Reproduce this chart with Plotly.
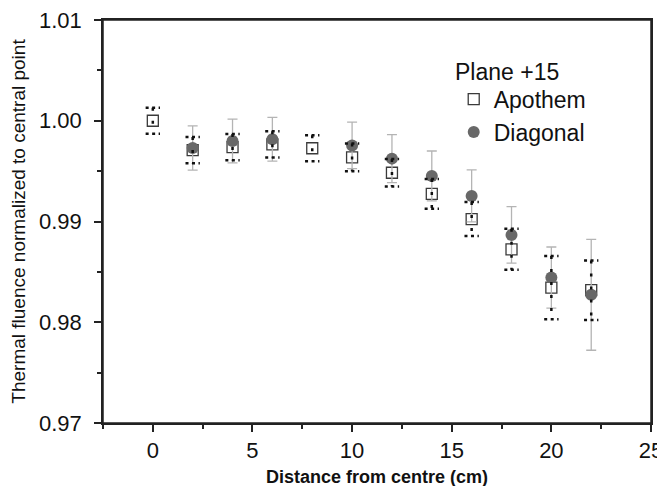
import plotly.graph_objects as go

# Data
x_apothem = [0, 2, 4, 6, 8, 10, 12, 14, 16, 18, 20, 22]
y_apothem = [1.0000, 0.99708, 0.99738, 0.99766, 0.99727, 0.99636, 0.99484, 0.99274, 0.99024, 0.98724, 0.98344, 0.98318]
err_apothem = [0.0013, 0.0013, 0.0013, 0.0013, 0.00128, 0.00137, 0.00137, 0.00147, 0.00169, 0.00203, 0.00313, 0.00295]

x_diagonal = [2, 4, 6, 10, 12, 14, 16, 18, 20, 22]
y_diagonal = [0.99729, 0.99799, 0.99817, 0.99755, 0.99624, 0.99452, 0.99254, 0.98867, 0.98444, 0.98272]
err_diagonal = [0.0022, 0.00218, 0.00217, 0.00231, 0.00238, 0.00248, 0.00258, 0.00281, 0.00303, 0.0055]

x_ticks = [0, 5, 10, 15, 20, 25]
y_ticks = [0.97, 0.98, 0.99, 1.00, 1.01]

FONT = "Liberation Sans, Arial, sans-serif"
CAP = 0.36  # half cap width in x units

# dotted error bars for apothem built from data
vx, vy, cx, cy = [], [], [], []
for x, y, e in zip(x_apothem, y_apothem, err_apothem):
    vx += [x, x, None]
    vy += [y + e, y - e, None]
    for yy in (y + e, y - e):
        cx += [x - CAP, x + CAP, None]
        cy += [yy, yy, None]

fig = go.Figure()
fig.add_trace(go.Scatter(
    x=x_apothem, y=y_apothem, mode="markers", name="Apothem",
    marker=dict(symbol="square-open", size=11, color="#3a3a3a", line=dict(width=1.3)),
))
fig.add_trace(go.Scatter(
    x=x_diagonal, y=y_diagonal, mode="markers", name="Diagonal",
    marker=dict(symbol="circle", size=12, color="#686868"),
    error_y=dict(type="data", array=err_diagonal, color="#b4b4b4", thickness=1.3, width=5),
))
fig.add_trace(go.Scatter(
    x=vx, y=vy, mode="lines", showlegend=False, hoverinfo="skip",
    line=dict(color="#111111", width=2.5, dash="3px,10px"),
))
fig.add_trace(go.Scatter(
    x=cx, y=cy, mode="lines", showlegend=False, hoverinfo="skip",
    line=dict(color="#111111", width=2.5, dash="3px,3.5px"),
))

axis_common = dict(
    showline=True, linecolor="#222222", linewidth=1.5, mirror=True,
    ticks="outside", ticklen=7, tickwidth=1.5, tickcolor="#222222",
    showgrid=False, zeroline=False, automargin=False,
    ticklabeloverflow="allow",
    tickfont=dict(family=FONT, size=22, color="#111111"),
)

fig.update_layout(
    width=649, height=478,
    margin=dict(l=95, r=6, t=12, b=63),
    paper_bgcolor="white", plot_bgcolor="white",
    font=dict(family=FONT, color="#111111"),
    xaxis=dict(
        range=[-2.5, 25], tickvals=x_ticks,
        minor=dict(dtick=2.5, ticks="outside", ticklen=4, tickwidth=1.5, tickcolor="#222222"),
        **axis_common,
    ),
    yaxis=dict(
        range=[0.97, 1.01], tickvals=y_ticks, tickformat=".2f",
        minor=dict(dtick=0.005, ticks="outside", ticklen=4, tickwidth=1.5, tickcolor="#222222"),
        title=dict(text="Thermal fluence normalized to central point", font=dict(family=FONT, size=19), standoff=10),
        ticklabelstandoff=8,
        **axis_common,
    ),
    legend=dict(
        x=0.64, y=0.857, xanchor="left", yanchor="top",
        font=dict(family=FONT, size=23, color="#111111"),
        bgcolor="rgba(0,0,0,0)",
    ),
    shapes=[dict(
        type="rect", xref="paper", yref="paper", x0=0, x1=1, y0=0, y1=1,
        line=dict(color="#222222", width=1.5), fillcolor="rgba(0,0,0,0)", layer="above",
    )],
    annotations=[
        dict(
            text="Plane +15", x=0.638, y=0.871, xref="paper", yref="paper",
            xanchor="left", yanchor="middle", showarrow=False,
            font=dict(family=FONT, size=23, color="#111111"),
        ),
        dict(
            text="<b>Distance from centre (cm)</b>", x=0.5, y=-0.134, xref="paper", yref="paper",
            xanchor="center", yanchor="middle", showarrow=False,
            font=dict(family=FONT, size=18, color="#111111"),
        ),
    ],
)

fig.write_html("out.html")
